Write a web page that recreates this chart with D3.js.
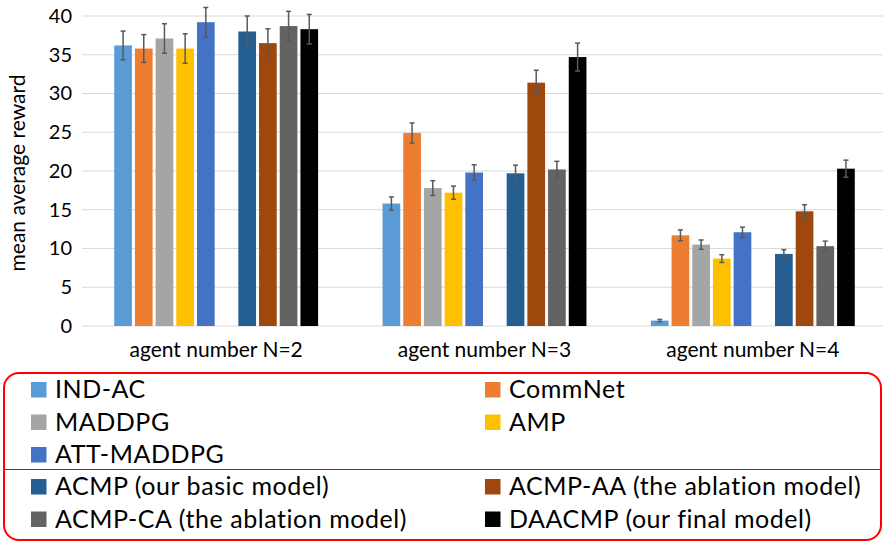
<!DOCTYPE html>
<html>
<head>
<meta charset="utf-8">
<script src="https://cdn.jsdelivr.net/npm/d3@7"></script>
<style>
  body { margin: 0; background: #fff; }
  svg { display: block; font-family: Lato, "Open Sans", sans-serif; }
</style>
</head>
<body>
<script>
// groups on the x axis
var groups = ["agent number N=2", "agent number N=3", "agent number N=4"];

// methods (legend order) and colours
var methods = ["IND-AC", "CommNet", "MADDPG", "AMP", "ATT-MADDPG",
               "ACMP (our basic model)", "ACMP-AA (the ablation model)",
               "ACMP-CA (the ablation model)", "DAACMP (our final model)"];
var colors = ["#5b9bd5", "#ed7d31", "#a5a5a5", "#ffc000", "#4472c4",
              "#255e91", "#9e480e", "#636363", "#000000"];

// slot of each method inside a group (slot 5 is left empty)
var slots = [0, 1, 2, 3, 4, 6, 7, 8, 9];

// mean reward per method, one array per group
var meanN2 = [36.2, 35.8, 37.1, 35.8, 39.2, 38.0, 36.5, 38.7, 38.3];
var meanN3 = [15.8, 24.9, 17.8, 17.2, 19.8, 19.7, 31.4, 20.2, 34.7];
var meanN4 = [0.7, 11.7, 10.5, 8.7, 12.1, 9.3, 14.8, 10.3, 20.3];

// error (half length of bar)
var errN2 = [1.85, 1.8, 1.9, 1.9, 1.9, 2.0, 1.85, 1.9, 1.9];
var errN3 = [0.85, 1.3, 0.95, 0.85, 1.0, 1.05, 1.6, 1.05, 1.8];
var errN4 = [0.15, 0.7, 0.6, 0.5, 0.65, 0.55, 0.85, 0.65, 1.1];

var yTicks = [0, 5, 10, 15, 20, 25, 30, 35, 40];

var width = 883, height = 542;

var svg = d3.select("body").append("svg")
    .attr("width", width)
    .attr("height", height);

var means = [meanN2, meanN3, meanN4],
    errs = [errN2, errN3, errN4];

//flatten into one row per bar
var bars = [];
groups.forEach(function(g, gi){
    methods.forEach(function(m, mi){
        bars.push({group: g, method: mi, slot: slots[mi], value: means[gi][mi], err: errs[gi][mi]});
    });
});

var x0 = d3.scaleBand()
    .domain(groups)
    .range([82, 887])
    .paddingInner(0.229)
    .paddingOuter(0.1145);

var x1 = d3.scaleBand()
    .domain(d3.range(10))
    .range([0, x0.bandwidth()])
    .paddingInner(0.145)
    .paddingOuter(0.0725);

var y = d3.scaleLinear()
    .domain([0, 40])
    .range([326, 16]);

//gridlines
svg.append("g")
    .selectAll("line")
    .data(yTicks)
    .enter()
    .append("line")
    .attr("x1", 82)
    .attr("x2", width)
    .attr("y1", function(d){ return y(d); })
    .attr("y2", function(d){ return y(d); })
    .attr("stroke", "#d9d9d9")
    .attr("stroke-width", 1);

//y axis labels
var yAxis = svg.append("g")
    .attr("transform", "translate(82,0)")
    .call(d3.axisLeft(y).tickValues(yTicks).tickSize(0).tickPadding(10));
yAxis.select(".domain").remove();
yAxis.selectAll("text")
    .attr("font-family", "Lato, 'Open Sans', sans-serif")
    .attr("font-size", 20)
    .attr("fill", "#000");

//x axis labels
var xAxis = svg.append("g")
    .attr("transform", "translate(0,326)")
    .call(d3.axisBottom(x0).tickSize(0).tickPadding(16));
xAxis.select(".domain").remove();
xAxis.selectAll("text")
    .attr("font-family", "Lato, 'Open Sans', sans-serif")
    .attr("font-size", 21)
    .attr("fill", "#000");

//y title
svg.append("text")
    .attr("transform", "translate(25,173) rotate(-90)")
    .attr("text-anchor", "middle")
    .attr("font-size", 21)
    .text("mean average reward");

//bars
svg.append("g")
    .selectAll("rect")
    .data(bars)
    .enter()
    .append("rect")
    .attr("x", function(d){ return x0(d.group) + x1(d.slot); })
    .attr("y", function(d){ return y(d.value); })
    .attr("width", x1.bandwidth())
    .attr("height", function(d){ return y(0) - y(d.value); })
    .attr("fill", function(d){ return colors[d.method]; });

//error bars
var eb = svg.append("g")
    .attr("stroke", "#595959")
    .attr("stroke-width", 1.5)
    .selectAll("g")
    .data(bars)
    .enter()
    .append("g")
    .attr("transform", function(d){ return "translate(" + (x0(d.group) + x1(d.slot) + x1.bandwidth() / 2) + ",0)"; });
eb.append("line")
    .attr("y1", function(d){ return y(d.value + d.err); })
    .attr("y2", function(d){ return y(d.value - d.err); });
eb.append("line")
    .attr("x1", -2.5).attr("x2", 2.5)
    .attr("y1", function(d){ return y(d.value + d.err); })
    .attr("y2", function(d){ return y(d.value + d.err); });
eb.append("line")
    .attr("x1", -2.5).attr("x2", 2.5)
    .attr("y1", function(d){ return y(d.value - d.err); })
    .attr("y2", function(d){ return y(d.value - d.err); });

//legend box
var legend = svg.append("g");
legend.append("rect")
    .attr("x", 4).attr("y", 373)
    .attr("width", 877).attr("height", 167)
    .attr("rx", 15).attr("ry", 15)
    .attr("fill", "none")
    .attr("stroke", "#ff0000")
    .attr("stroke-width", 2);
legend.append("line")
    .attr("x1", 4).attr("x2", 881)
    .attr("y1", 469.5).attr("y2", 469.5)
    .attr("stroke", "#e00000")
    .attr("stroke-width", 1);

//legend rows and columns
var legendRow = [0, 0, 1, 1, 2, 3, 3, 4, 4],
    legendCol = [0, 1, 0, 1, 0, 0, 1, 0, 1];
var rowY = [389.5, 422, 454.5, 486.5, 519],
    colX = [31, 485];

var item = legend.selectAll(".item")
    .data(methods)
    .enter()
    .append("g")
    .attr("class", "item")
    .attr("transform", function(d, i){ return "translate(" + colX[legendCol[i]] + "," + rowY[legendRow[i]] + ")"; });
item.append("rect")
    .attr("x", 0).attr("y", -7.5)
    .attr("width", 15.5).attr("height", 15.5)
    .attr("fill", function(d, i){ return colors[i]; });
item.append("text")
    .attr("x", 24)
    .attr("dy", "0.35em")
    .attr("font-size", 25)
    .attr("letter-spacing", 0.55)
    .attr("fill", "#000")
    .text(function(d){ return d; });
</script>
</body>
</html>
